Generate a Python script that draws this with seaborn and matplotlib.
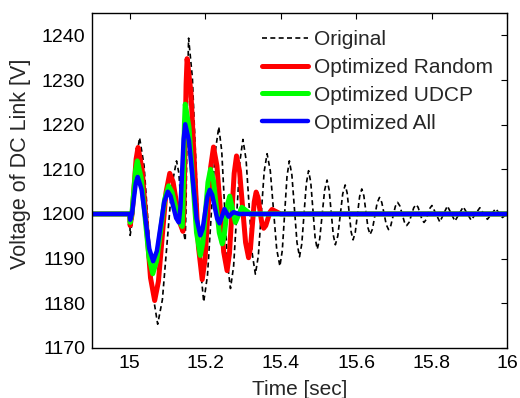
import matplotlib
matplotlib.use("Agg")
import matplotlib.pyplot as plt
import seaborn as sns
import pandas as pd

# ---- data (extrema plus shoulder points) ----
t_orig = [14.9, 15.0, 15.001, 15.007, 15.020, 15.026, 15.038, 15.062, 15.074, 15.0865,
          15.1115, 15.124, 15.130, 15.141, 15.147, 15.149, 15.154, 15.156, 15.166, 15.186,
          15.196, 15.206, 15.226, 15.236, 15.2438, 15.2593, 15.267, 15.2753, 15.2918, 15.300,
          15.3083, 15.3248, 15.333, 15.3408, 15.3563, 15.364, 15.3725, 15.3895, 15.398, 15.4043,
          15.4168, 15.423, 15.4298, 15.4433, 15.450, 15.456, 15.468, 15.474, 15.4798, 15.4913,
          15.497, 15.5035, 15.5165, 15.523, 15.5285, 15.5395, 15.545, 15.5515, 15.5645, 15.571,
          15.5763, 15.5868, 15.592, 15.5978, 15.6093, 15.615, 15.6205, 15.6315, 15.637, 15.6433,
          15.6558, 15.662, 15.668, 15.680, 15.686, 15.692, 15.704, 15.710, 15.716, 15.728,
          15.734, 15.7403, 15.7528, 15.759, 15.7643, 15.7748, 15.780, 15.7853, 15.7958, 15.801,
          15.822, 15.842, 15.862, 15.884, 15.905, 15.928, 15.948, 15.970, 15.988, 16.0]
v_orig = [1200, 1200, 1195.2, 1198.5, 1213.8, 1217.1, 1210.8, 1181.6, 1175.3, 1180.8,
          1206.4, 1211.9, 1209.2, 1196.7, 1194.0, 1200.8, 1232.6, 1239.4, 1230.5, 1189.2,
          1180.3, 1186.2, 1213.6, 1219.5, 1214.1, 1188.7, 1183.3, 1188.3, 1211.7, 1216.7,
          1212.2, 1191.0, 1186.5, 1190.6, 1209.5, 1213.5, 1209.7, 1192.1, 1188.3, 1191.8,
          1208.4, 1211.9, 1208.7, 1193.6, 1190.4, 1193.3, 1206.8, 1209.7, 1207.1, 1194.7,
          1192.1, 1194.4, 1205.3, 1207.6, 1205.4, 1195.3, 1193.1, 1195.1, 1204.5, 1206.5,
          1204.7, 1196.0, 1194.2, 1195.9, 1203.9, 1205.6, 1204.1, 1196.9, 1195.4, 1196.6,
          1202.5, 1203.7, 1202.6, 1197.6, 1196.5, 1197.4, 1201.7, 1202.6, 1201.8, 1198.2,
          1197.4, 1198.1, 1201.4, 1202.1, 1201.5, 1198.7, 1198.1, 1198.7, 1201.3, 1201.9,
          1198.2, 1201.8, 1198.4, 1201.6, 1198.6, 1201.4, 1198.8, 1201.2, 1199.2, 1200.0]

t_rand = [14.9, 15.0, 15.001, 15.0063, 15.0168, 15.022, 15.033, 15.055, 15.066, 15.076,
          15.096, 15.106, 15.1148, 15.1323, 15.141, 15.1438, 15.1493, 15.152, 15.162, 15.182,
          15.192, 15.1995, 15.2145, 15.222, 15.231, 15.249, 15.258, 15.2643, 15.2768, 15.283,
          15.291, 15.307, 15.315, 15.320, 15.330, 15.335, 15.340, 15.350, 15.355, 15.3605,
          15.3715, 15.377, 15.40, 16.0]
v_rand = [1200, 1200, 1197.4, 1200.0, 1212.3, 1214.9, 1209.8, 1185.7, 1180.6, 1184.9,
          1204.8, 1209.1, 1207.2, 1198.1, 1196.1, 1201.9, 1229.0, 1234.8, 1227.4, 1192.7,
          1185.3, 1189.8, 1210.5, 1215.0, 1210.8, 1191.5, 1187.3, 1191.2, 1209.1, 1213.0,
          1209.6, 1193.6, 1190.2, 1192.4, 1202.7, 1204.9, 1203.7, 1198.0, 1196.8, 1197.4,
          1200.4, 1201.0, 1200, 1200]

t_udcp = [14.9, 15.0, 15.001, 15.0058, 15.0153, 15.020, 15.0303, 15.0508, 15.061, 15.0715,
          15.0925, 15.103, 15.112, 15.130, 15.139, 15.141, 15.145, 15.147, 15.157, 15.177,
          15.187, 15.1938, 15.2073, 15.214, 15.2218, 15.2373, 15.245, 15.250, 15.260, 15.265,
          15.2725, 15.280, 15.297, 15.32, 16.0]
v_udcp = [1200, 1200, 1198.1, 1200.2, 1209.8, 1211.9, 1208.1, 1190.4, 1186.6, 1189.6,
          1203.3, 1206.3, 1204.9, 1198.6, 1197.2, 1201.3, 1220.5, 1224.6, 1219.5, 1195.8,
          1190.7, 1193.6, 1207.1, 1210.0, 1207.5, 1195.8, 1193.3, 1194.9, 1202.4, 1204.0,
          1201.0, 1198.1, 1201.5, 1200, 1200]

t_all = [14.9, 15.0, 15.001, 15.006, 15.016, 15.021, 15.0313, 15.0518, 15.062, 15.0718,
         15.0913, 15.101, 15.1083, 15.1228, 15.130, 15.1343, 15.1428, 15.147, 15.157, 15.177,
         15.187, 15.1933, 15.2058, 15.212, 15.2185, 15.2315, 15.238, 15.251, 15.262, 15.275,
         15.29, 16.0]
v_all = [1200, 1200, 1198.7, 1200.1, 1206.9, 1208.3, 1205.5, 1192.2, 1189.4, 1191.7,
         1202.7, 1205.0, 1204.0, 1199.1, 1198.1, 1201.4, 1216.8, 1220.1, 1216.4, 1199.0,
         1195.2, 1196.7, 1203.9, 1205.4, 1204.3, 1199.0, 1197.9, 1201.1, 1199.4, 1200.4,
         1200, 1200]

labels = ["Original", "Optimized Random", "Optimized UDCP", "Optimized All"]
x_ticks = [15, 15.2, 15.4, 15.6, 15.8, 16]
x_tick_labels = ["15", "15.2", "15.4", "15.6", "15.8", "16"]
y_ticks = [1170, 1180, 1190, 1200, 1210, 1220, 1230, 1240]

# ---- styling ----
sns.set_style("white")
plt.rcParams["font.family"] = ["Liberation Sans", "DejaVu Sans"]
plt.rcParams["font.size"] = 14

fig = plt.figure(figsize=(5.2, 3.98), dpi=100)
ax = fig.add_axes([0.177, 0.126, 0.798, 0.841])

series = [
    (t_orig, v_orig, labels[0], "black", 1.2, (0, (3, 2))),
    (t_rand, v_rand, labels[1], "#ff0000", 3.6, "-"),
    (t_udcp, v_udcp, labels[2], "#00ff00", 3.6, "-"),
    (t_all, v_all, labels[3], "#0000ff", 3.2, "-"),
]
for t, v, lab, col, lw, ls in series:
    df = pd.DataFrame({"t": t, "v": v})
    sns.lineplot(data=df, x="t", y="v", ax=ax, color=col, linewidth=lw,
                 linestyle=ls, label=lab, sort=False, estimator=None,
                 solid_joinstyle="round", dash_joinstyle="round")

ax.set_xlim(14.9, 16.0)
ax.set_ylim(1170, 1245)
ax.set_xticks(x_ticks)
ax.set_xticklabels(x_tick_labels)
ax.set_yticks(y_ticks)
ax.tick_params(direction="in", length=4, width=0.8, top=True, right=True,
               labelsize=14, pad=5, colors="black")
for s in ax.spines.values():
    s.set_visible(True)
    s.set_color("black")
    s.set_linewidth(1.0)

ax.set_xlabel("Time [sec]", fontsize=15, labelpad=6)
ax.set_ylabel("Voltage of DC Link [V]", fontsize=15.5)
ax.yaxis.set_label_coords(-0.147, 0.55)

leg = fig.legend(loc="upper left", bbox_to_anchor=(0.504, 0.925), frameon=False,
                 fontsize=15, handlelength=2.2, handletextpad=0.3, labelspacing=0.43,
                 borderpad=0, borderaxespad=0)
if ax.get_legend():
    ax.get_legend().remove()

fig.savefig("out.png", dpi=100, facecolor="white")
